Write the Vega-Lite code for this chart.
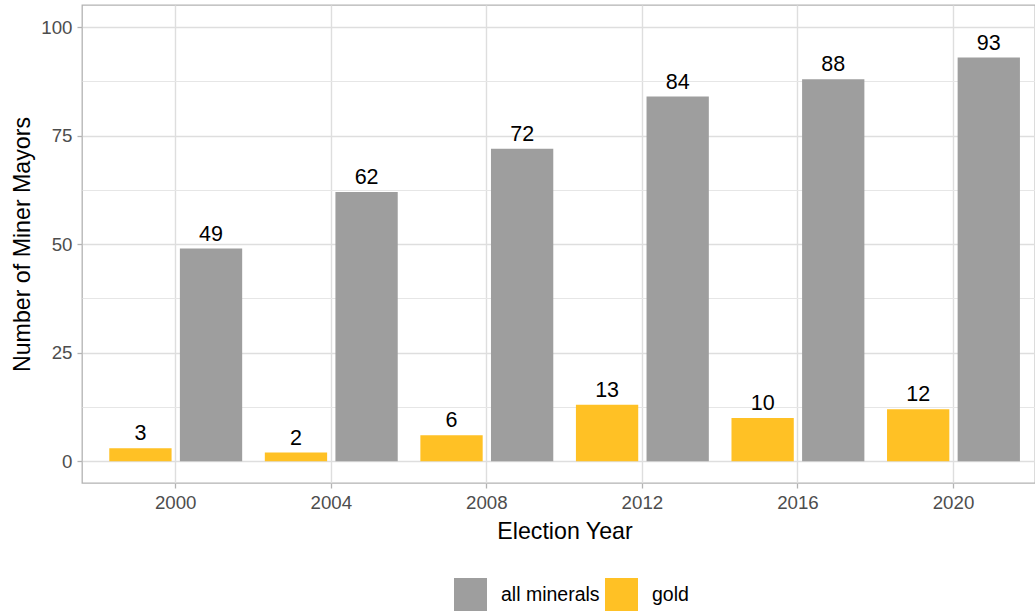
{
  "$schema": "https://vega.github.io/schema/vega-lite/v6.json",
  "width": 953,
  "height": 478,
  "autosize": {"type": "none"},
  "padding": {"left": 82, "top": 5, "right": 0, "bottom": 128},
  "background": "white",
  "config": {
    "font": "Liberation Sans",
    "view": {"stroke": "#B3B3B3", "strokeWidth": 1.3},
    "axis": {
      "domain": false,
      "gridColor": "#DEDEDE",
      "tickColor": "#B3B3B3",
      "tickSize": 5,
      "tickWidth": 1.3,
      "labelColor": "#4D4D4D",
      "labelFontSize": 18.7,
      "labelFont": "Liberation Sans",
      "titleFont": "Liberation Sans",
      "titleFontSize": 23.2,
      "titleFontWeight": "normal",
      "titleColor": "black"
    }
  },
  "data": {
    "values": [
      {"year": 2000, "type": "gold", "count": 3},
      {"year": 2000, "type": "all minerals", "count": 49},
      {"year": 2004, "type": "gold", "count": 2},
      {"year": 2004, "type": "all minerals", "count": 62},
      {"year": 2008, "type": "gold", "count": 6},
      {"year": 2008, "type": "all minerals", "count": 72},
      {"year": 2012, "type": "gold", "count": 13},
      {"year": 2012, "type": "all minerals", "count": 84},
      {"year": 2016, "type": "gold", "count": 10},
      {"year": 2016, "type": "all minerals", "count": 88},
      {"year": 2020, "type": "gold", "count": 12},
      {"year": 2020, "type": "all minerals", "count": 93}
    ]
  },
  "encoding": {
    "x": {
      "field": "year",
      "type": "ordinal",
      "scale": {"paddingInner": 0, "paddingOuter": 0.0633, "align": 0.81},
      "axis": {
        "title": "Election Year",
        "labelAngle": 0,
        "bandPosition": 0.5,
        "grid": true,
        "gridWidth": 1.4,
        "labelPadding": 5,
        "titlePadding": 9,
        "titleX": 482.5
      }
    },
    "xOffset": {
      "field": "type",
      "type": "nominal",
      "sort": ["gold", "all minerals"],
      "scale": {"paddingInner": 0.1176, "paddingOuter": 0.1604}
    },
    "y": {
      "field": "count",
      "type": "quantitative",
      "scale": {"domain": [-5, 105.1], "nice": false, "zero": false},
      "axis": {
        "title": "Number of Miner Mayors",
        "values": [0, 12.5, 25, 37.5, 50, 62.5, 75, 87.5, 100],
        "labelExpr": "datum.value % 25 === 0 ? datum.label : ''",
        "labelOverlap": false,
        "labelFlush": false,
        "tickOpacity": {"condition": {"test": "datum.value % 25 !== 0", "value": 0}, "value": 1},
        "gridWidth": {"condition": {"test": "datum.value % 25 !== 0", "value": 1}, "value": 1.4},
        "gridColor": {"condition": {"test": "datum.value % 25 !== 0", "value": "#E6E6E6"}, "value": "#DEDEDE"},
        "labelPadding": 5,
        "titlePadding": 6
      }
    }
  },
  "layer": [
    {
      "mark": {"type": "bar"},
      "encoding": {
        "color": {
          "field": "type",
          "type": "nominal",
          "scale": {"domain": ["all minerals", "gold"], "range": ["#9E9E9E", "#FFC125"]},
          "legend": {
            "title": null,
            "orient": "none",
            "direction": "horizontal",
            "legendX": 372,
            "legendY": 573,
            "padding": 0,
            "symbolType": "square",
            "symbolSize": 1089,
            "symbolStrokeWidth": 0,
            "symbolOpacity": 1,
            "labelFont": "Liberation Sans",
            "labelFontSize": 19.5,
            "labelColor": "black",
            "labelOffset": 14,
            "columnPadding": 5
          }
        }
      }
    },
    {
      "mark": {"type": "text", "baseline": "alphabetic", "dy": -8, "fontSize": 21.5, "color": "black", "font": "Liberation Sans"},
      "encoding": {"text": {"field": "count", "type": "quantitative"}}
    }
  ]
}
